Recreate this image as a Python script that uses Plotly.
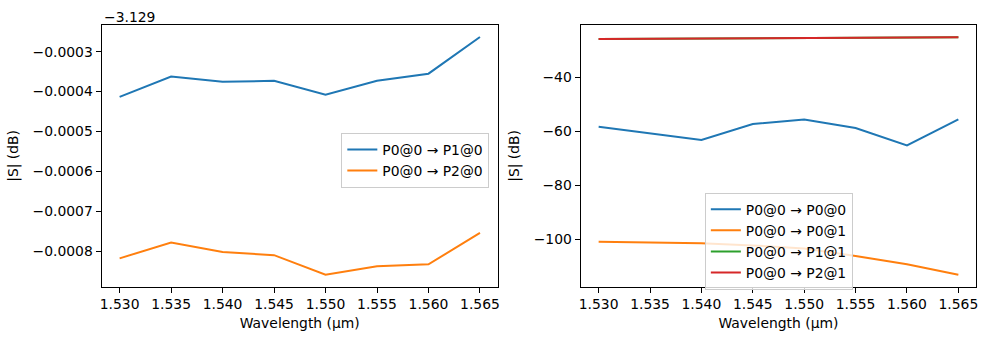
import plotly.graph_objects as go

wavelength = [1.530, 1.535, 1.540, 1.545, 1.550, 1.555, 1.560, 1.565]

# Left panel (absolute values, dB)
offset_left = -3.129
s_p1_0 = [-3.129413, -3.129362, -3.129375, -3.129373, -3.129408, -3.129373, -3.129355, -3.129263]
s_p2_0 = [-3.129818, -3.129778, -3.129802, -3.129810, -3.129859, -3.129838, -3.129833, -3.129754]

# Right panel
s_p0_0 = [-58.3, -60.8, -63.2, -57.3, -55.6, -58.8, -65.2, -55.6]
s_p0_1 = [-100.9, -101.1, -101.5, -102.3, -103.4, -106.2, -109.3, -113.2]
s_p1_1 = [-25.8, -25.7, -25.6, -25.5, -25.4, -25.3, -25.2, -25.1]
s_p2_1 = [-25.8, -25.7, -25.6, -25.5, -25.4, -25.3, -25.2, -25.1]

C = ["#1f77b4", "#ff7f0e", "#2ca02c", "#d62728"]
FONT = "DejaVu Sans"
FS = 13.9
W, H = 989, 340

fig = go.Figure()
lw = 2

fig.add_trace(go.Scatter(x=wavelength, y=[v - offset_left for v in s_p1_0], mode="lines",
                         line=dict(color=C[0], width=lw), name="P0@0 → P1@0",
                         xaxis="x", yaxis="y", legend="legend"))
fig.add_trace(go.Scatter(x=wavelength, y=[v - offset_left for v in s_p2_0], mode="lines",
                         line=dict(color=C[1], width=lw), name="P0@0 → P2@0",
                         xaxis="x", yaxis="y", legend="legend"))

for ys, col, nm in [(s_p0_0, C[0], "P0@0 → P0@0"), (s_p0_1, C[1], "P0@0 → P0@1"),
                    (s_p1_1, C[2], "P0@0 → P1@1"), (s_p2_1, C[3], "P0@0 → P2@1")]:
    fig.add_trace(go.Scatter(x=wavelength, y=ys, mode="lines", line=dict(color=col, width=lw),
                             name=nm, xaxis="x2", yaxis="y2", legend="legend2"))

ydom = [1 - 286.7 / H, 1 - 25 / H]
axis_common = dict(showline=True, mirror=True, linecolor="black", linewidth=1.1,
                   ticks="outside", ticklen=5, tickwidth=1.1, tickcolor="black",
                   showgrid=False, zeroline=False,
                   tickfont=dict(family=FONT, size=FS, color="black"))

fig.update_layout(
    width=W, height=H, margin=dict(l=0, r=0, t=0, b=0),
    plot_bgcolor="white", paper_bgcolor="white",
    font=dict(family=FONT, size=FS, color="black"),
    xaxis=dict(domain=[100 / W, 498 / W], range=[1.52825, 1.56675], tickvals=wavelength,
               tickformat=".3f", anchor="y",
               title=dict(text="Wavelength (µm)", font=dict(size=FS), standoff=6), **axis_common),
    yaxis=dict(domain=ydom, range=[-0.000889, -0.000233], dtick=0.0001, tickformat=".4f",
               anchor="x",
               title=dict(text="|S| (dB)", font=dict(size=FS), standoff=10), **axis_common),
    xaxis2=dict(domain=[581 / W, 978.3 / W], range=[1.52825, 1.56675], tickvals=wavelength,
                tickformat=".3f", anchor="y2",
                title=dict(text="Wavelength (µm)", font=dict(size=FS), standoff=6), **axis_common),
    yaxis2=dict(domain=ydom, range=[-117.6, -20.6], tickvals=[-100, -80, -60, -40],
                anchor="x2",
                title=dict(text="|S| (dB)", font=dict(size=FS), standoff=10), **axis_common),
    legend=dict(x=340.7 / W, y=1 - 133 / H, xanchor="left", yanchor="top",
                bgcolor="rgba(255,255,255,0.8)", bordercolor="#cccccc", borderwidth=1,
                font=dict(family=FONT, size=FS), tracegroupgap=0, itemwidth=30),
    legend2=dict(x=705.7 / W, y=1 - 192.7 / H, xanchor="left", yanchor="top",
                 bgcolor="rgba(255,255,255,0.8)", bordercolor="#cccccc", borderwidth=1,
                 font=dict(family=FONT, size=FS), tracegroupgap=0, itemwidth=30),
    showlegend=True,
)

fig.add_annotation(text="−3.129", xref="paper", yref="paper", x=100 / W, y=1 - 17 / H,
                   xanchor="left", yanchor="middle", showarrow=False,
                   font=dict(family=FONT, size=FS, color="black"))

fig.write_html("out.html")
